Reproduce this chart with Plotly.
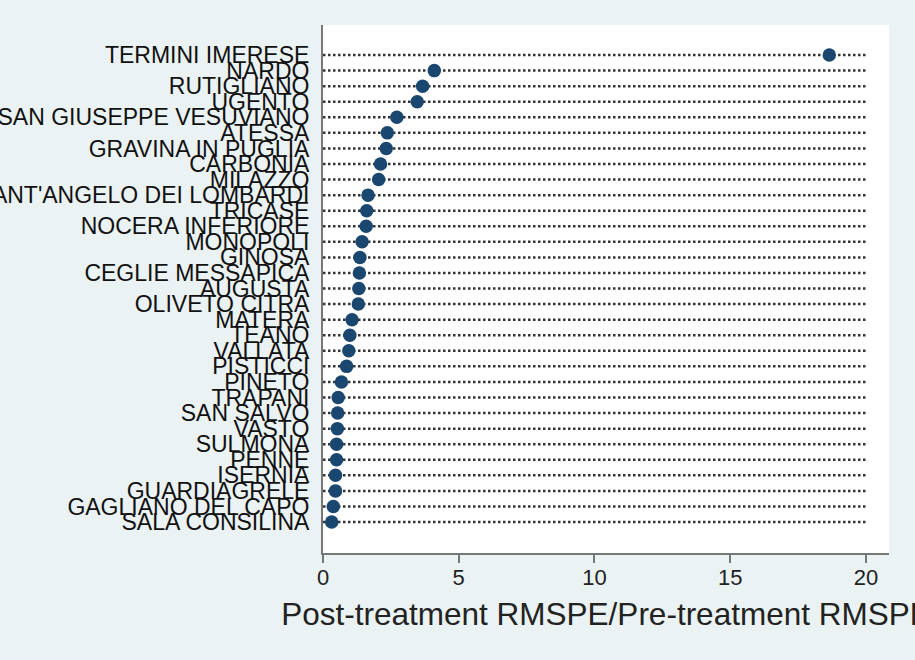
import plotly.graph_objects as go

# Units sorted from top to bottom as in the chart
units = [
    "TERMINI IMERESE", "NARDO", "RUTIGLIANO", "UGENTO", "SAN GIUSEPPE VESUVIANO",
    "ATESSA", "GRAVINA IN PUGLIA", "CARBONIA", "MILAZZO", "SANT'ANGELO DEI LOMBARDI",
    "TRICASE", "NOCERA INFERIORE", "MONOPOLI", "GINOSA", "CEGLIE MESSAPICA",
    "AUGUSTA", "OLIVETO CITRA", "MATERA", "TEANO", "VALLATA",
    "PISTICCI", "PINETO", "TRAPANI", "SAN SALVO", "VASTO",
    "SULMONA", "PENNE", "ISERNIA", "GUARDIAGRELE", "GAGLIANO DEL CAPO",
    "SALA CONSILINA",
]
ratio = [
    18.65, 4.10, 3.67, 3.47, 2.72,
    2.37, 2.33, 2.12, 2.05, 1.66,
    1.61, 1.59, 1.44, 1.36, 1.34,
    1.32, 1.30, 1.07, 0.99, 0.95,
    0.87, 0.68, 0.56, 0.54, 0.53,
    0.50, 0.50, 0.46, 0.46, 0.38,
    0.32,
]
line_start = 0
line_end = 20
x_ticks = [0, 5, 10, 15, 20]
x_title = "Post-treatment RMSPE/Pre-treatment RMSPE"

FONT = "Liberation Sans, Arial, Helvetica, sans-serif"
NAVY = "#1a476f"
BG = "#eaf2f3"

# dotted guide lines, one per unit
lx, ly = [], []
for u in units:
    lx += [line_start, line_end, None]
    ly += [u, u, None]

fig = go.Figure()
fig.add_trace(go.Scatter(
    x=lx, y=ly, mode="lines",
    line=dict(color="#333333", width=2.5, dash="2.5px,2.5px"),
    hoverinfo="skip", showlegend=False,
))
fig.add_trace(go.Scatter(
    x=ratio, y=units, mode="markers",
    marker=dict(color=NAVY, size=13.5, line=dict(width=0)),
    showlegend=False,
))

order_bottom_up = list(reversed(units))
n = len(units)

fig.update_layout(
    width=915, height=660,
    paper_bgcolor=BG, plot_bgcolor="white",
    margin=dict(l=323, r=26, t=25, b=107),
    font=dict(family=FONT, color="#111111"),
    showlegend=False,
)
fig.update_xaxes(
    range=[0, 20.85],
    tickmode="array", tickvals=x_ticks,
    ticks="outside", ticklen=8, tickwidth=1.5, tickcolor="#777777",
    showline=True, linecolor="#777777", linewidth=2,
    showgrid=False, zeroline=False,
    tickfont=dict(size=22, family=FONT, color="#222222"),
    ticklabelstandoff=-4,
    title=dict(text=x_title, font=dict(size=31.5, family=FONT, color="#222222"), standoff=14),
    automargin=False,
)
fig.update_yaxes(
    type="category",
    categoryorder="array", categoryarray=order_bottom_up,
    tickmode="array", tickvals=units, ticktext=units,
    range=[-1.99, n - 1 + 1.93],
    ticks="", showline=True, linecolor="#777777", linewidth=2,
    showgrid=False, zeroline=False,
    tickfont=dict(size=23, family=FONT, color="#111111"),
    ticklabelstandoff=7,
    automargin=False,
)

fig.write_html(
    "out.html",
    config={"displayModeBar": False},
    post_script="document.body.style.margin='0';document.body.style.overflow='hidden';",
)
